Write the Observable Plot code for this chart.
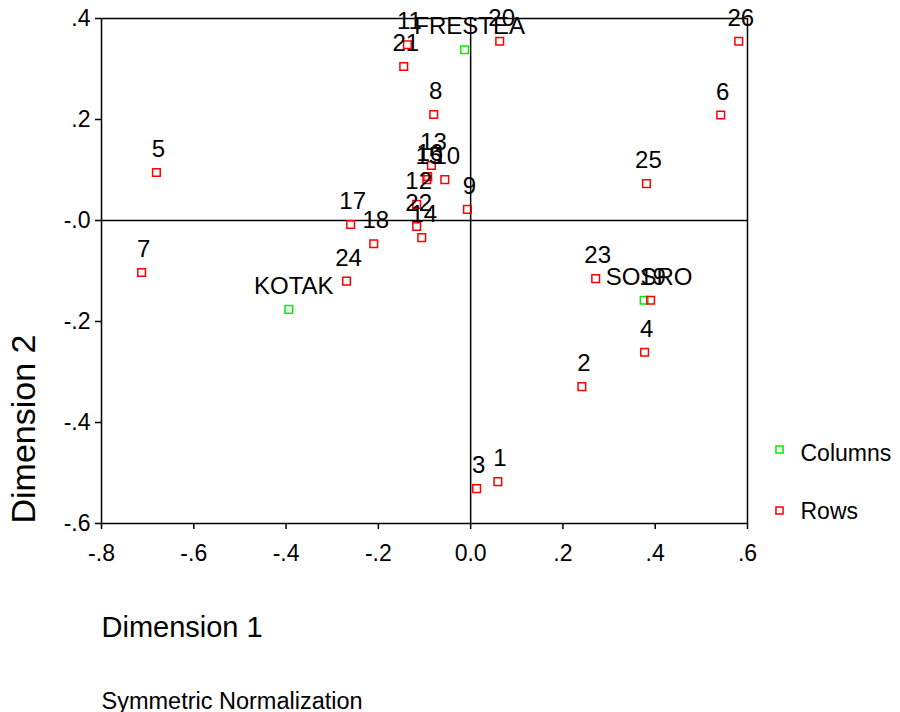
<!DOCTYPE html>
<html><head><meta charset="utf-8">
<script src="https://cdn.jsdelivr.net/npm/d3@7"></script>
<script src="https://cdn.jsdelivr.net/npm/@observablehq/plot@0.6"></script>
<style>body{margin:0;background:#fff} svg{display:block}</style>
</head><body><div id="chart"></div>
<script>
// Row points (respondents)
const rowLabels = ["1","2","3","4","5","6","7","8","9","10","11","12","13","14","15","16","17","18","19","20","21","22","23","24","25","26"];
const rowDim1 = [0.059,0.241,0.013,0.377,-0.681,0.542,-0.713,-0.080,-0.007,-0.056,-0.137,-0.117,-0.085,-0.106,-0.095,-0.093,-0.260,-0.210,0.390,0.063,-0.145,-0.117,0.271,-0.269,0.381,0.581];
const rowDim2 = [-0.517,-0.329,-0.531,-0.261,0.095,0.209,-0.103,0.210,0.022,0.081,0.348,0.032,0.109,-0.034,0.081,0.087,-0.008,-0.046,-0.158,0.355,0.305,-0.012,-0.115,-0.120,0.073,0.355];
// Column points (brands)
const colLabels = ["FRESTEA","KOTAK","SOSRO"];
const colDim1 = [-0.013,-0.394,0.376];
const colDim2 = [0.338,-0.176,-0.158];
// Ticks
const xTicks = [-0.8,-0.6,-0.4,-0.2,0,0.2,0.4,0.6];
const xTickLabels = ["-.8","-.6","-.4","-.2","0.0",".2",".4",".6"];
const yTicks = [0.4,0.2,0,-0.2,-0.4,-0.6];
const yTickLabels = [".4",".2","-.0","-.2","-.4","-.6"];
const legendLabels = ["Columns","Rows"];

const rows = rowLabels.map((l,i)=>({label:l, d1:rowDim1[i], d2:rowDim2[i]}));
const cols = colLabels.map((l,i)=>({label:l, d1:colDim1[i], d2:colDim2[i]}));

const red = "#ff0000", green = "#00ee00";

const chart = Plot.plot({
  width: 900, height: 712,
  marginLeft: 101, marginRight: 153, marginTop: 18, marginBottom: 189,
  style: {fontFamily: "'Liberation Sans', Arial, sans-serif", fontSize: "23px", background: "white", color: "black"},
  x: {domain: [-0.8, 0.6]},
  y: {domain: [-0.6, 0.4]},
  marks: [
    Plot.axisX({ticks: xTicks, tickFormat: d => xTickLabels[xTicks.indexOf(d)], tickSize: 6, tickPadding: 15, fontSize: 23, label: null, strokeWidth: 1.5}),
    Plot.axisY({ticks: yTicks, tickFormat: d => yTickLabels[yTicks.indexOf(d)], tickSize: 6, tickPadding: 5, fontSize: 23, label: null, strokeWidth: 1.5}),
    Plot.ruleX([0], {stroke: "black", strokeWidth: 1.5}),
    Plot.ruleY([0], {stroke: "black", strokeWidth: 1.5}),
    Plot.frame({stroke: "black", strokeWidth: 1.5}),
    Plot.dot(cols, {x: "d1", y: "d2", symbol: "square", r: 4.3, stroke: green, strokeWidth: 1.5, fill: "none"}),
    Plot.dot(rows, {x: "d1", y: "d2", symbol: "square", r: 4.3, stroke: red, strokeWidth: 1.5, fill: "none"}),
    Plot.text(rows, {x: "d1", y: "d2", text: "label", dy: -23, dx: 2, fontSize: 24, fill: "black"}),
    Plot.text(cols, {x: "d1", y: "d2", text: "label", dy: -23, dx: 5, fontSize: 24, fill: "black"}),
    // axis titles and note
    Plot.text(["Dimension 1"], {text: d => d, frameAnchor: "bottom-left", textAnchor: "start", dy: 113, fontSize: 29}),
    Plot.text(["Dimension 2"], {text: d => d, frameAnchor: "bottom-left", textAnchor: "start", rotate: -90, dx: -67, dy: 0, fontSize: 34}),
    Plot.text(["Symmetric Normalization"], {text: d => d, frameAnchor: "bottom-left", textAnchor: "start", dy: 185, fontSize: 23.5}),
    // legend
    Plot.dot([legendLabels[0]], {frameAnchor: "bottom-right", dx: 32, dy: -74, symbol: "square", r: 4, stroke: green, strokeWidth: 1.5, fill: "none"}),
    Plot.dot([legendLabels[1]], {frameAnchor: "bottom-right", dx: 32, dy: -13, symbol: "square", r: 4, stroke: red, strokeWidth: 1.5, fill: "none"}),
    Plot.text([legendLabels[0]], {text: d => d, frameAnchor: "bottom-right", textAnchor: "start", dx: 53, dy: -63, fontSize: 23}),
    Plot.text([legendLabels[1]], {text: d => d, frameAnchor: "bottom-right", textAnchor: "start", dx: 53, dy: -5, fontSize: 23})
  ]
});
document.getElementById("chart").appendChild(chart);
</script>
</body></html>
